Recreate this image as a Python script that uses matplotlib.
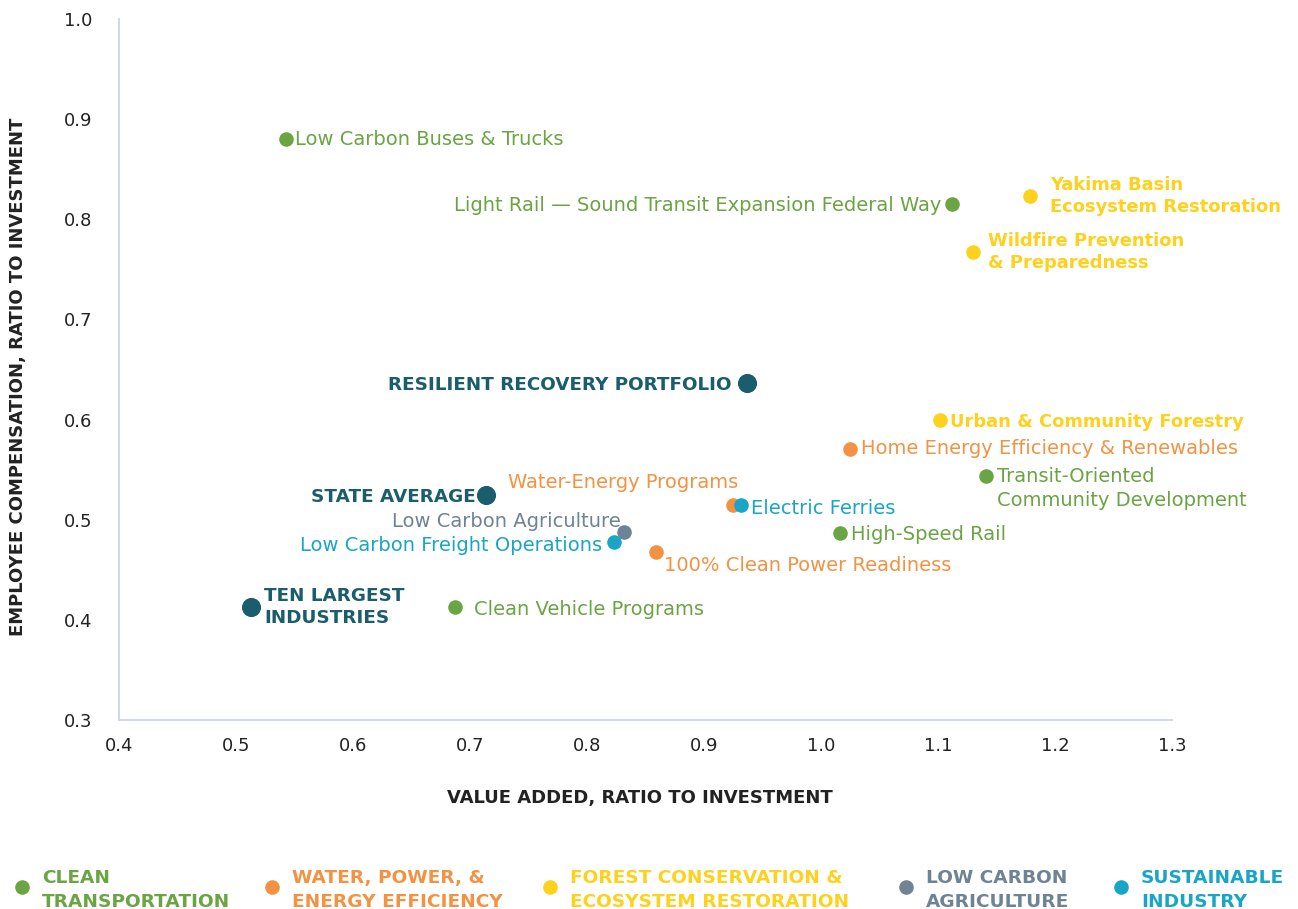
import matplotlib
matplotlib.use('Agg')
import matplotlib.pyplot as plt

# dati
names = ['Low Carbon Buses & Trucks', 'Light Rail — Sound Transit Expansion Federal Way',
         'Yakima Basin\nEcosystem Restoration', 'Wildfire Prevention\n& Preparedness',
         'RESILIENT RECOVERY PORTFOLIO', 'Urban & Community Forestry',
         'Home Energy Efficiency & Renewables', 'Transit-Oriented\nCommunity Development',
         'Water-Energy Programs', 'Electric Ferries', 'STATE AVERAGE',
         'Low Carbon Agriculture', 'Low Carbon Freight Operations',
         '100% Clean Power Readiness', 'High-Speed Rail',
         'TEN LARGEST\nINDUSTRIES', 'Clean Vehicle Programs']
value_added = [0.543, 1.112, 1.179, 1.130, 0.937, 1.102, 1.025, 1.141,
               0.925, 0.932, 0.714, 0.832, 0.823, 0.859, 1.016, 0.513, 0.687]
compensation = [0.880, 0.815, 0.823, 0.767, 0.637, 0.600, 0.571, 0.544,
                0.515, 0.515, 0.525, 0.488, 0.478, 0.468, 0.487, 0.413, 0.413]
groups = ['transport', 'transport', 'forest', 'forest', 'summary', 'forest',
          'water', 'transport', 'water', 'industry', 'summary', 'agri',
          'industry', 'water', 'transport', 'summary', 'transport']

legend_keys = ['transport', 'water', 'forest', 'agri', 'industry']
legend_labels = ['CLEAN\nTRANSPORTATION', 'WATER, POWER, &\nENERGY EFFICIENCY',
                 'FOREST CONSERVATION &\nECOSYSTEM RESTORATION',
                 'LOW CARBON\nAGRICULTURE', 'SUSTAINABLE\nINDUSTRY']

colori = {'transport': '#6aa443', 'water': '#f39242', 'forest': '#fdd11c',
          'agri': '#6f8396', 'industry': '#19a6c6', 'summary': '#1a5e6d'}

# posizione delle etichette (offset in pixel, allineamento)
offsets = [(9, 0, 'left'), (-11, -1, 'right'), (20, 0, 'left'), (15, 0, 'left'),
           (-16, -2, 'right'), (10, -2, 'left'), (11, 0, 'left'), (11, -13, 'left'),
           (5, 22, 'right'), (10, -4, 'left'), (-11, -2, 'right'), (-4, 10, 'right'),
           (-12, -4, 'right'), (8, -14, 'left'), (11, -2, 'left'), (13, 0, 'left'),
           (19, -3, 'left')]

W, H = 1298, 909
fig = plt.figure(figsize=(W / 100, H / 100), dpi=100)
ax = fig.add_axes([119 / W, 1 - 720 / H, (1172 - 119) / W, (720 - 19) / H])

for i in range(len(names)):
    g = groups[i]
    big = g == 'summary'
    ax.scatter(value_added[i], compensation[i], s=190 if big else 110,
               color=colori[g], zorder=3, linewidths=0)
    dx, dy, ha = offsets[i]
    bold = big or g == 'forest'
    if big:
        fs = 13.2
    elif bold:
        fs = 12.9
    else:
        fs = 14
    ax.annotate(names[i], (value_added[i], compensation[i]),
                xytext=(dx * 0.72, dy * 0.72), textcoords='offset points',
                ha=ha, va='center', fontsize=fs, color=colori[g],
                fontweight='bold' if bold else 'normal', linespacing=1.3)

ax.set_xlim(0.4, 1.3)
ax.set_ylim(0.3, 1.0)
ax.set_xticks([0.4, 0.5, 0.6, 0.7, 0.8, 0.9, 1.0, 1.1, 1.2, 1.3])
ax.set_yticks([0.3, 0.4, 0.5, 0.6, 0.7, 0.8, 0.9, 1.0])
ax.xaxis.set_major_formatter(matplotlib.ticker.FormatStrFormatter('%.1f'))
ax.yaxis.set_major_formatter(matplotlib.ticker.FormatStrFormatter('%.1f'))
ax.tick_params(length=0, labelsize=13, colors='#222222')
ax.tick_params(axis='x', pad=12)
ax.tick_params(axis='y', pad=19)
for s in ['top', 'right']:
    ax.spines[s].set_visible(False)
for s in ['left', 'bottom']:
    ax.spines[s].set_color('#cbd6e2')
    ax.spines[s].set_linewidth(1.3)

fig.text(640 / W, 1 - 798 / H, 'VALUE ADDED, RATIO TO INVESTMENT', ha='center',
         va='center', fontsize=13, fontweight='bold', color='#222222')
fig.text(18 / W, 1 - 377 / H, 'EMPLOYEE COMPENSATION, RATIO TO INVESTMENT',
         ha='center', va='center', rotation=90, fontsize=13,
         fontweight='bold', color='#222222')

# legenda in basso
leg = fig.add_axes([0, 0, 1, 1], facecolor='none')
leg.set_xlim(0, W)
leg.set_ylim(H, 0)
leg.axis('off')
legend_x = [22, 272, 550, 906, 1121]
for k, lab, lx in zip(legend_keys, legend_labels, legend_x):
    leg.scatter(lx, 887, s=110, color=colori[k], linewidths=0)
    leg.text(lx + 20, 890, lab, ha='left', va='center', fontsize=13.3,
             fontweight='bold', color=colori[k], linespacing=1.4)

fig.savefig('out.png', dpi=100)
